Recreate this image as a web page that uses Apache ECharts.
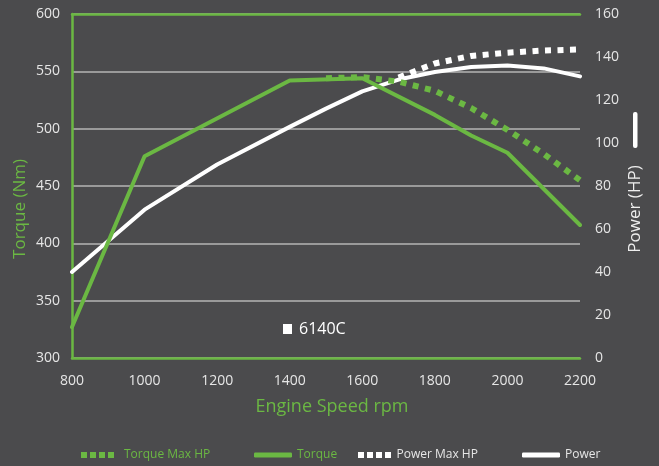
<!DOCTYPE html>
<html>
<head>
<meta charset="utf-8">
<script src="https://cdn.jsdelivr.net/npm/echarts@6/dist/echarts.min.js"></script>
<style>
html,body{margin:0;padding:0;background:#4b4b4d;}
#c{width:659px;height:466px;}
</style>
</head>
<body>
<div id="c"></div>
<script>
// ---- data ----
var rpmTicks = [800, 1000, 1200, 1400, 1600, 1800, 2000, 2200];
var torqueTicks = [300, 350, 400, 450, 500, 550, 600];
var powerTicks = [0, 20, 40, 60, 80, 100, 120, 140, 160];

var torqueRpm = [800, 1000, 1400, 1600, 1800, 1900, 2000, 2200];
var torque    = [327, 476, 542, 544, 512, 494, 479, 416];

var torqueMaxRpm = [1500, 1600, 1700, 1800, 1900, 2000, 2100, 2200];
var torqueMax    = [544, 545, 541, 533, 518, 499, 478, 455];

var powerRpm = [800, 1000, 1200, 1400, 1500, 1600, 1700, 1800, 1900, 2000, 2100, 2200];
var power    = [40, 69, 90, 107.5, 116, 124, 129.5, 133, 135.3, 136, 134.7, 131];

var powerMaxRpm = [1700, 1800, 1900, 2000, 2100, 2200];
var powerMax    = [130.5, 137, 140.5, 142, 143, 143.5];

var seriesNames = ['Torque Max HP', 'Torque', 'Power Max HP', 'Power'];
var modelLabel = '6140C';

function pairs(xs, ys) { return xs.map(function (x, i) { return [x, ys[i]]; }); }
function plain(v) { return String(v); }

var GREEN = '#6bb843';
var TXT = '#e6e6e6';
var FONT = 'Open Sans';
var DOTS = 'path://M0,0h6v6h-6z M9,0h6v6h-6z M18,0h6v6h-6z M27,0h6v6h-6z';

var chart = echarts.init(document.getElementById('c'));
function legendAt(left, name, icon, w, h, color, padLeft) {
  return {
    orient: 'horizontal', top: 449, left: left, padding: 0,
    itemWidth: w, itemHeight: h, itemGap: 0,
    data: [{ name: name, icon: icon }],
    textStyle: { fontFamily: FONT, fontSize: 12, color: color, padding: [0, 0, 0, padLeft] }
  };
}
chart.setOption({
  backgroundColor: '#4b4b4d',
  animation: false,
  grid: { left: 72, right: 79, top: 14, bottom: 108 },
  xAxis: [{
    type: 'value', min: rpmTicks[0], max: rpmTicks[rpmTicks.length - 1], interval: 200,
    axisLine: { lineStyle: { color: GREEN, width: 2.5 } },
    axisTick: { show: false }, splitLine: { show: false },
    axisLabel: { color: TXT, fontFamily: FONT, fontSize: 14, margin: 16, formatter: plain }
  }, {
    type: 'value', position: 'top', min: rpmTicks[0], max: rpmTicks[rpmTicks.length - 1], interval: 200,
    axisLine: { show: true, lineStyle: { color: GREEN, width: 2.5 } },
    axisTick: { show: false }, splitLine: { show: false }, axisLabel: { show: false }
  }],
  yAxis: [{
    type: 'value', min: torqueTicks[0], max: torqueTicks[torqueTicks.length - 1], interval: 50,
    axisLine: { show: true, lineStyle: { color: GREEN, width: 2.5 } },
    axisTick: { show: false },
    splitLine: { lineStyle: { color: '#b4b4b4', width: 1.5 } },
    axisLabel: { color: TXT, fontFamily: FONT, fontSize: 14, margin: 12, formatter: plain }
  }, {
    type: 'value', position: 'right', min: powerTicks[0], max: powerTicks[powerTicks.length - 1], interval: 20,
    axisLine: { show: false }, axisTick: { show: false }, splitLine: { show: false },
    axisLabel: { color: TXT, fontFamily: FONT, fontSize: 14, margin: 15, formatter: plain }
  }],
  legend: [
    legendAt(81, seriesNames[0], DOTS, 33, 6, GREEN, 5),
    legendAt(254, seriesNames[1], 'roundRect', 38, 5, GREEN, 0),
    legendAt(358, seriesNames[2], DOTS, 34, 6, TXT, 0),
    legendAt(522, seriesNames[3], 'roundRect', 38, 5, TXT, 0)
  ],
  series: [{
    name: seriesNames[3], type: 'line', xAxisIndex: 0, yAxisIndex: 1, symbol: 'none',
    data: pairs(powerRpm, power), color: '#ffffff',
    lineStyle: { color: '#ffffff', width: 4, join: 'round', cap: 'round' }
  }, {
    name: seriesNames[2], type: 'line', xAxisIndex: 0, yAxisIndex: 1, symbol: 'none',
    data: pairs(powerMaxRpm, powerMax), color: '#ffffff',
    lineStyle: { color: '#ffffff', width: 6, type: [6, 6.5], cap: 'butt' }
  }, {
    name: seriesNames[1], type: 'line', xAxisIndex: 0, yAxisIndex: 0, symbol: 'none',
    data: pairs(torqueRpm, torque), color: GREEN,
    lineStyle: { color: GREEN, width: 4, join: 'round', cap: 'round' }
  }, {
    name: seriesNames[0], type: 'line', xAxisIndex: 0, yAxisIndex: 0, symbol: 'none',
    data: pairs(torqueMaxRpm, torqueMax), color: GREEN,
    lineStyle: { color: GREEN, width: 6, type: [6, 6.5], cap: 'butt' }
  }],
  graphic: [
    { type: 'text', x: 20, y: 209, rotation: Math.PI / 2,
      style: { text: 'Torque (Nm)', fill: GREEN, font: '17px "' + FONT + '"', align: 'center', verticalAlign: 'middle' } },
    { type: 'text', x: 635, y: 209, rotation: Math.PI / 2,
      style: { text: 'Power (HP)', fill: '#eeeeee', font: '17px "' + FONT + '"', align: 'center', verticalAlign: 'middle' } },
    { type: 'rect', shape: { x: 633, y: 112, width: 4.5, height: 36, r: 2 }, style: { fill: '#ffffff' } },
    { type: 'text', x: 332, y: 407,
      style: { text: 'Engine Speed rpm', fill: GREEN, font: '18px "' + FONT + '"', align: 'center', verticalAlign: 'middle' } },
    { type: 'rect', shape: { x: 283, y: 324, width: 9, height: 10 }, style: { fill: '#ffffff' } },
    { type: 'text', x: 299, y: 329,
      style: { text: modelLabel, fill: '#ffffff', font: '16px "' + FONT + '"', align: 'left', verticalAlign: 'middle' } }
  ]
});
</script>
</body>
</html>
